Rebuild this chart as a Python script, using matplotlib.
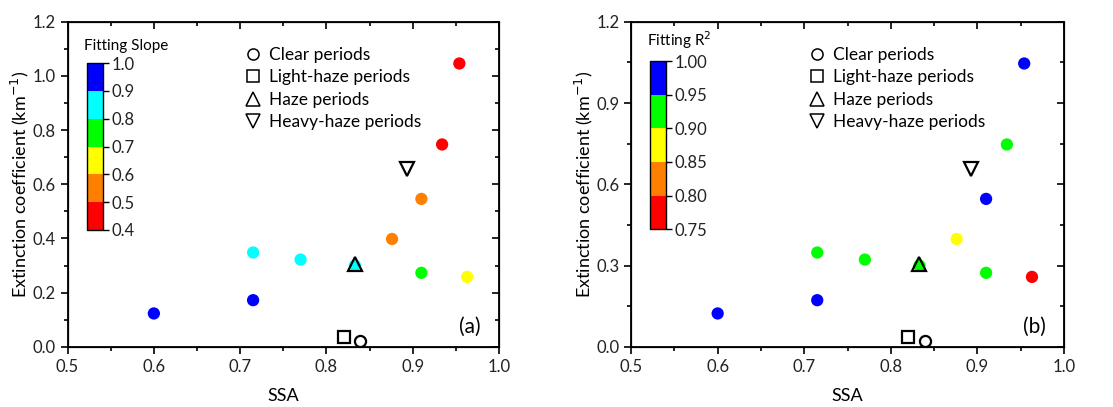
import matplotlib
matplotlib.use('Agg')
import matplotlib.pyplot as plt
from matplotlib import colors
from matplotlib.lines import Line2D
from matplotlib.ticker import MultipleLocator
import numpy as np

plt.rcParams['font.family'] = ['Lato', 'DejaVu Sans']

# sub-period points
ssa = [0.600, 0.715, 0.715, 0.770, 0.833, 0.876, 0.910, 0.910, 0.934, 0.954, 0.963]
ext = [0.123, 0.172, 0.348, 0.322, 0.300, 0.398, 0.546, 0.273, 0.747, 1.046, 0.258]
slope = [0.96, 0.93, 0.86, 0.84, 0.85, 0.55, 0.52, 0.74, 0.46, 0.43, 0.65]
r2 = [0.98, 0.97, 0.93, 0.92, 0.93, 0.87, 0.96, 0.94, 0.91, 0.99, 0.78]

# period means (open markers)
period_names = ['Clear periods', 'Light-haze periods', 'Haze periods', 'Heavy-haze periods']
period_ssa = [0.839, 0.820, 0.833, 0.893]
period_ext = [0.021, 0.037, 0.305, 0.658]
period_markers = ['o', 's', '^', 'v']

class_colors = ['#ff0000', '#ff8000', '#ffff00', '#00ff00', '#00ffff', '#0000ff']
slope_bounds = [0.4, 0.5, 0.6, 0.7, 0.8, 0.9, 1.0]
r2_colors = ['#ff0000', '#ff8000', '#ffff00', '#00ff00', '#0000ff']
r2_bounds = [0.75, 0.80, 0.85, 0.90, 0.95, 1.00]

marker_size = {'o': 8, 's': 8, '^': 10.5, 'v': 10.5}


def set_ticks(a, axis, major, minor, direction):
    tgt = a.xaxis if axis == 'x' else a.yaxis
    tgt.set_major_locator(MultipleLocator(major))
    tgt.set_minor_locator(MultipleLocator(minor))
    a.tick_params(axis=axis, which='both', direction=direction, width=1.2)
    a.tick_params(axis=axis, which='major', length=5)
    a.tick_params(axis=axis, which='minor', length=3)


def draw_panel(fig, rect, cb_rect, values, ccols, bounds, cb_title, cb_fmt,
               ymajor, tag):
    ax = fig.add_axes(rect)
    cmap = colors.ListedColormap(ccols)
    norm = colors.BoundaryNorm(bounds, cmap.N)
    ax.scatter(ssa, ext, c=values, cmap=cmap, norm=norm, s=78,
               edgecolors='none', zorder=3)
    for px, py, m in zip(period_ssa, period_ext, period_markers):
        ax.plot(px, py, marker=m, ms=marker_size[m], mfc='none', mec='black',
                mew=1.6, ls='none', zorder=4)

    ax.set_xlim(0.5, 1.0)
    ax.set_ylim(0, 1.2)
    set_ticks(ax, 'x', 0.1, 0.05, 'out')
    set_ticks(ax, 'y', ymajor, ymajor / 2, 'out')
    ax.tick_params(labelsize=12, labelcolor='#222222')
    for a in ['top', 'bottom', 'left', 'right']:
        ax.spines[a].set_linewidth(1.3)

    # inward ticks on the top and right frame
    axt = ax.twinx()
    axt.set_ylim(ax.get_ylim())
    set_ticks(axt, 'y', ymajor, ymajor / 2, 'in')
    axt.tick_params(labelright=False)
    axx = ax.twiny()
    axx.set_xlim(ax.get_xlim())
    set_ticks(axx, 'x', 0.1, 0.05, 'in')
    axx.tick_params(labeltop=False)

    ax.set_xlabel('SSA', fontsize=13, labelpad=10)
    ax.set_ylabel('Extinction coefficient (km$^{-1}$)', fontsize=13, labelpad=1)
    ax.text(0.958, 0.03, tag, transform=ax.transAxes, fontsize=15,
            ha='right', va='bottom')

    handles = [Line2D([], [], marker=m, ms=marker_size[m], mfc='none', mec='black',
                      mew=1.1, ls='none') for m in period_markers]
    ax.legend(handles, period_names, loc='upper left',
              bbox_to_anchor=(0.39, 0.945), frameon=False, fontsize=12.5,
              handletextpad=0.3, labelspacing=0.38, borderaxespad=0,
              handlelength=1.2)

    cax = fig.add_axes(cb_rect)
    cb = fig.colorbar(plt.cm.ScalarMappable(norm=norm, cmap=cmap), cax=cax,
                      ticks=bounds)
    cb.ax.set_yticklabels([cb_fmt.format(b) for b in bounds])
    cb.ax.tick_params(labelsize=12, length=4, width=1, pad=2, labelcolor='#222222')
    cb.outline.set_linewidth(1)
    cax.text(-0.2, 1.06, cb_title, transform=cax.transAxes, fontsize=11,
             ha='left', va='bottom')
    return ax


fig = plt.figure(figsize=(11.13, 4.07), dpi=100)
draw_panel(fig, [0.0607, 0.148, 0.3877, 0.7985], [0.0782, 0.435, 0.0144, 0.41],
           slope, class_colors, slope_bounds, 'Fitting Slope', '{:.1f}', 0.2, '(a)')
draw_panel(fig, [0.567, 0.148, 0.389, 0.7985], [0.584, 0.437, 0.0144, 0.413],
           r2, r2_colors, r2_bounds, 'Fitting R$^2$', '{:.2f}', 0.3, '(b)')
fig.savefig('out.png', dpi=100)
